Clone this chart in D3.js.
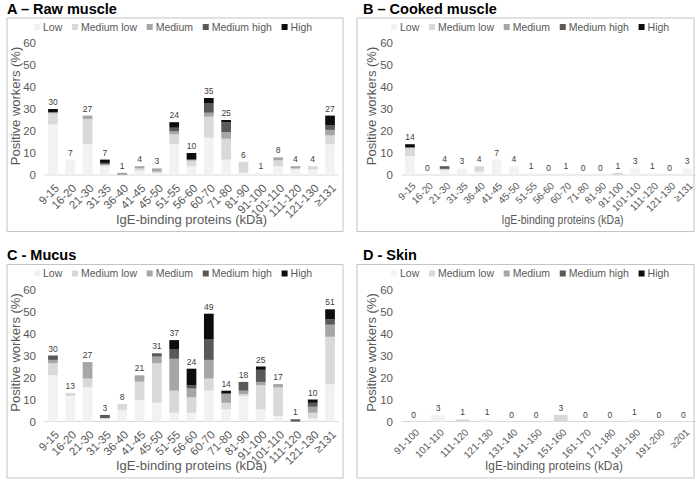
<!DOCTYPE html>
<html>
<head>
<meta charset="utf-8">
<script src="https://cdn.jsdelivr.net/npm/d3@7"></script>
<style>
body { margin: 0; background: #fff; }
text { font-family: "Liberation Sans", Arial, sans-serif; }
</style>
</head>
<body>
<svg id="chart" width="700" height="482"></svg>
<script>
var levels = ["Low", "Medium low", "Medium", "Medium high", "High"];
var levelColors = ["#f2f2f2", "#d9d9d9", "#a6a6a6", "#595959", "#0d0d0d"];
var yTicks = [0, 10, 20, 30, 40, 50, 60];

var muscleBands = ["9-15","16-20","21-30","31-35","36-40","41-45","45-50","51-55","56-60",
                   "60-70","71-80","81-90","91-100","101-110","111-120","121-130","\u2265131"];
var skinBands = ["91-100","101-110","111-120","121-130","131-140","141-150","151-160",
                 "161-170","171-180","181-190","191-200","\u2265201"];

// A - raw muscle
var rawLow  = [23, 7, 14, 4, 0, 2, 1, 14, 4, 17, 7, 1, 1, 4, 2.5, 2.5, 14];
var rawMLow = [5, 0, 11.5, 0.5, 0, 1, 0.5, 4.5, 2.5, 9.5, 9.5, 5, 0, 2.7, 0.5, 1.5, 4];
var rawMed  = [0.5, 0, 1.5, 0.5, 1, 1, 1.5, 1.4, 0.5, 1.8, 3, 0, 0, 1.3, 1, 0, 2.5];
var rawMHigh= [0, 0, 0, 0.5, 0, 0, 0, 1.6, 0, 4.2, 4.5, 0, 0, 0, 0, 0, 2];
var rawHigh = [1.5, 0, 0, 1.5, 0, 0, 0, 2.5, 3, 2.5, 1, 0, 0, 0, 0, 0, 4.5];

// B - cooked muscle
var cookLow  = [8.5, 0, 2.5, 3, 1.5, 7, 4, 1, 0, 1, 0, 0, 0, 3, 1, 0, 3];
var cookMLow = [4, 0, 0, 0, 2.5, 0, 0, 0, 0, 0, 0, 0, 1, 0, 0, 0, 0];
var cookMed  = [0, 0, 0.3, 0, 0, 0, 0, 0, 0, 0, 0, 0, 0, 0, 0, 0, 0];
var cookMHigh= [0, 0, 1.2, 0, 0, 0, 0, 0, 0, 0, 0, 0, 0, 0, 0, 0, 0];
var cookHigh = [1.5, 0, 0, 0, 0, 0, 0, 0, 0, 0, 0, 0, 0, 0, 0, 0, 0];

// C - mucus
var mucLow  = [21, 11.5, 15.5, 1.5, 5.3, 9.8, 8.6, 4, 4, 14, 5.5, 11.5, 5.5, 2.5, 0, 1.5, 17];
var mucMLow = [5.5, 1.5, 4, 0, 2.7, 8.3, 17.9, 10, 7, 5.5, 3, 1, 11, 13, 0, 2.5, 21.5];
var mucMed  = [1.5, 0, 7.5, 0, 0, 2.9, 3, 14.5, 4, 8.5, 4, 1.5, 1.5, 1.5, 0, 2.7, 5.5];
var mucMHigh= [2, 0, 0, 1.5, 0, 0, 1.5, 4.2, 1.5, 9.5, 0.3, 4, 5.5, 0, 1, 1.8, 2.5];
var mucHigh = [0, 0, 0, 0, 0, 0, 0, 4.3, 7.5, 11.5, 1.2, 0, 1.5, 0, 0, 1.5, 4.5];

// D - skin
var skinLow  = [0, 3, 0, 1, 0, 0, 0, 0, 0, 1, 0, 0];
var skinMLow = [0, 0, 1, 0, 0, 0, 3, 0, 0, 0, 0, 0];
var skinMed  = [0, 0, 0, 0, 0, 0, 0, 0, 0, 0, 0, 0];
var skinMHigh= [0, 0, 0, 0, 0, 0, 0, 0, 0, 0, 0, 0];
var skinHigh = [0, 0, 0, 0, 0, 0, 0, 0, 0, 0, 0, 0];

var svg = d3.select("#chart");
svg.append("rect").attr("width", 700).attr("height", 482).attr("fill", "#fff");

function drawPanel(p) {
  var g = svg.append("g").attr("transform", "translate(" + p.ox + "," + p.oy + ")");

  svg.append("rect")
    .attr("x", p.boxX).attr("y", 18 + p.oy)
    .attr("width", p.boxW).attr("height", 213.5)
    .attr("fill", "none").attr("stroke", "#c4c4c4");

  svg.append("text")
    .attr("x", p.titleX).attr("y", 13.5 + p.oy)
    .attr("font-size", "14.5px").attr("font-weight", "bold")
    .text(p.title);

  var rows = p.cats.map(function(c, i) {
    var r = { cat: c };
    levels.forEach(function(l, j) { r[l] = p.series[j][i]; });
    return r;
  });
  var stacked = d3.stack().keys(levels)(rows);

  var x = d3.scaleBand().domain(p.cats).range([44.3, 338.7])
    .paddingInner(0.44).paddingOuter(0.22);
  var y = d3.scaleLinear().domain([0, 60]).range([175, 43]);

  // y axis
  var ya = g.append("g").attr("transform", "translate(39,0)")
    .call(d3.axisLeft(y).tickValues(yTicks).tickSize(0).tickPadding(3));
  ya.select(".domain").remove();
  ya.selectAll("text").attr("font-size", "11.5px").attr("fill", "#595959")
    .style("font-family", "'Liberation Sans', Arial, sans-serif");

  // baseline
  g.append("line")
    .attr("x1", x.range()[0]).attr("x2", x.range()[1])
    .attr("y1", y(0)).attr("y2", y(0))
    .attr("stroke", "#d9d9d9");

  // bars
  g.selectAll(".layer").data(stacked).enter().append("g")
    .attr("fill", function(d, i) { return levelColors[i]; })
    .selectAll("rect").data(function(d) { return d; }).enter().append("rect")
    .attr("x", function(d) { return x(d.data.cat); })
    .attr("width", x.bandwidth())
    .attr("y", function(d) { return y(d[1]); })
    .attr("height", function(d) { return y(d[0]) - y(d[1]); });

  // totals
  g.selectAll(".tot").data(rows).enter().append("text")
    .attr("x", function(d) { return x(d.cat) + x.bandwidth() / 2; })
    .attr("y", function(d) { return y(d3.sum(levels, function(l) { return d[l]; })) - 4; })
    .attr("text-anchor", "middle").attr("font-size", "8.5px").attr("fill", "#404040")
    .text(function(d) { return Math.round(d3.sum(levels, function(l) { return d[l]; })); });

  // x axis
  var xa = g.append("g").attr("transform", "translate(0," + y(0) + ")")
    .call(d3.axisBottom(x).tickSize(0));
  xa.select(".domain").remove();
  xa.selectAll("text")
    .attr("y", 0).attr("dy", "0.35em")
    .attr("transform", "translate(4," + p.tickDy + ") rotate(-45)")
    .attr("text-anchor", "end")
    .attr("font-size", p.tickFont).attr("fill", "#595959")
    .style("font-family", "'Liberation Sans', Arial, sans-serif");

  // axis titles
  g.append("text")
    .attr("transform", "translate(" + p.yTitleX + ",106) rotate(-90)")
    .attr("text-anchor", "middle").attr("dy", "0.35em")
    .attr("font-size", "13px").attr("fill", "#595959")
    .text("Positive workers (%)");

  var xt = svg.append("text")
    .attr("x", p.xTitleX).attr("y", 223.5 + p.oy)
    .attr("text-anchor", "middle")
    .attr("font-size", "13px").attr("fill", "#595959")
    .text("IgE-binding proteins (kDa)");
  if (p.xTitleLen) xt.attr("textLength", p.xTitleLen).attr("lengthAdjust", "spacingAndGlyphs");

  // legend
  var lg = g.append("g").attr("transform", "translate(34,27)");
  var lx = 0;
  levels.forEach(function(l, i) {
    lg.append("rect").attr("x", lx).attr("y", -3).attr("width", 6).attr("height", 6)
      .attr("fill", levelColors[i]);
    var t = lg.append("text").attr("x", lx + 9).attr("dy", "0.35em")
      .attr("font-size", "10.5px").attr("fill", "#595959").text(l);
    lx += 9 + t.node().getComputedTextLength() + 9.7;
  });
}

drawPanel({ title: "A \u2013 Raw muscle", cats: muscleBands,
  series: [rawLow, rawMLow, rawMed, rawMHigh, rawHigh],
  ox: 0, oy: 0, boxX: 7, boxW: 336, titleX: 7, yTitleX: 15, xTitleX: 191.5,
  tickFont: "11.5px", tickDy: 11 });

drawPanel({ title: "B \u2013 Cooked muscle", cats: muscleBands,
  series: [cookLow, cookMLow, cookMed, cookMHigh, cookHigh],
  ox: 357, oy: 0, boxX: 357, boxW: 337, titleX: 363, yTitleX: 14, xTitleX: 562.5, xTitleLen: 122,
  tickFont: "10px", tickDy: 9 });

drawPanel({ title: "C - Mucus", cats: muscleBands,
  series: [mucLow, mucMLow, mucMed, mucMHigh, mucHigh],
  ox: 0, oy: 246.5, boxX: 7, boxW: 336, titleX: 7, yTitleX: 15, xTitleX: 191.5,
  tickFont: "11.5px", tickDy: 11 });

drawPanel({ title: "D - Skin", cats: skinBands,
  series: [skinLow, skinMLow, skinMed, skinMHigh, skinHigh],
  ox: 357, oy: 246.5, boxX: 357, boxW: 337, titleX: 363, yTitleX: 14, xTitleX: 554, xTitleLen: 138,
  tickFont: "10px", tickDy: 9 });
</script>
</body>
</html>
